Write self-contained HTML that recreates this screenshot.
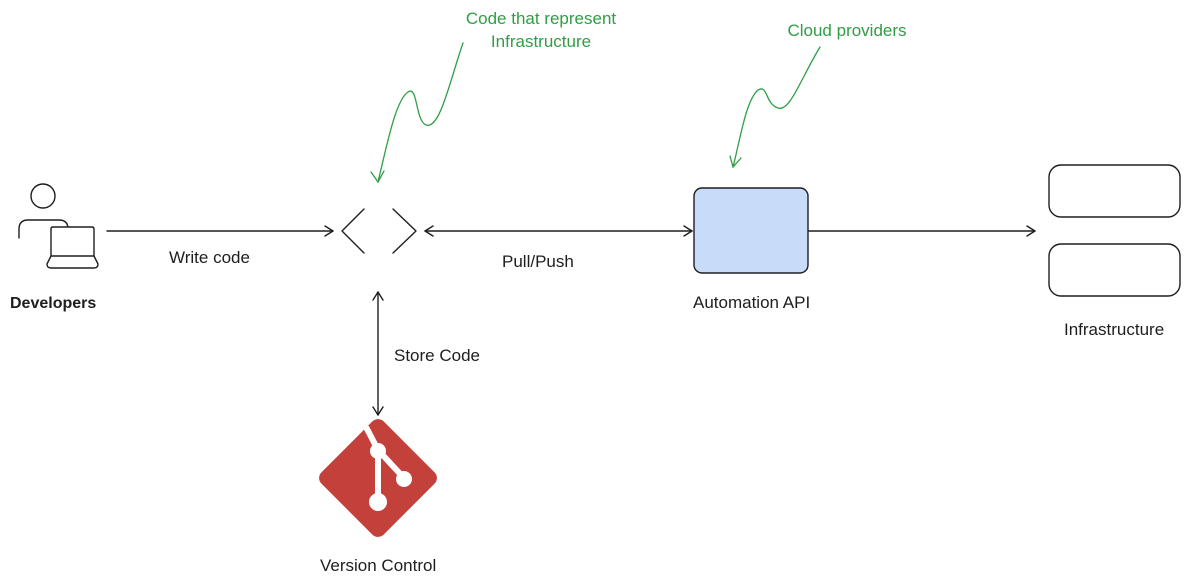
<!DOCTYPE html>
<html><head><style>
body{margin:0;background:#fff;}
svg{display:block;font-family:"Liberation Sans",Arial,sans-serif;}
</style></head><body>
<svg width="1200" height="587" viewBox="0 0 1200 587" xmlns="http://www.w3.org/2000/svg">
<g fill="none" stroke="#1e1e1e" stroke-width="1.4" stroke-linecap="round" stroke-linejoin="round">
  <circle cx="43" cy="196" r="12"/>
  <path d="M19 238 V229 Q19 220 28 220 H59 Q68 220 68 229 V238"/>
  <path d="M51 237 V229 Q51 227 53 227 H92 Q94 227 94 229 V256 H51 Z" fill="#fff"/>
  <path d="M51 256 L47 264 Q47 268 51 268 H94 Q98 268 98 264 L94 256"/>
  <path d="M364 209 L342 231 L364 253"/>
  <path d="M393 209 L416 231 L393 253"/>
  <path d="M107 231 H333"/><path d="M325 226 L333 231 L325 236"/>
  <path d="M425 231 H692"/><path d="M433 226 L425 231 L433 236"/><path d="M684 226 L692 231 L684 236"/>
  <path d="M809 231 H1035"/><path d="M1027 226 L1035 231 L1027 236"/>
  <path d="M378 292 V415"/><path d="M373 300 L378 292 L383 300"/><path d="M373 407 L378 415 L383 407"/>
  <rect x="694" y="188" width="114" height="85" rx="8" fill="#c8dcfa"/>
  <rect x="1049" y="165" width="131" height="52" rx="12"/>
  <rect x="1049" y="244" width="131" height="52" rx="12"/>
</g>
<g fill="none" stroke="#2f9e44" stroke-width="1.3" stroke-linecap="round">
  <path d="M463 43 C450 80 440 130 426 125 C415 120 418 85 408 92 C396 100 388 140 378 182"/>
  <path d="M371 172 L378 182 L384 171"/>
  <path d="M820 47 C800 80 790 112 778 108 C765 104 768 84 758 90 C746 100 740 140 733 167"/>
  <path d="M730 156 L733 167 L741 158"/>
</g>
<g transform="translate(378,478) rotate(45)">
  <rect x="-44" y="-44" width="88" height="88" rx="8" fill="#c4403a"/>
</g>
<g stroke="#fff" stroke-width="6" fill="none">
  <path d="M366 427 L378 450 L378 502"/>
  <path d="M378 450 L404 478"/>
</g>
<g fill="#fff"><circle cx="378" cy="451" r="8"/><circle cx="404" cy="479" r="8"/><circle cx="378" cy="502" r="9"/></g>
<g font-size="17" fill="#1e1e1e">
  <text x="169" y="263">Write code</text>
  <text x="502" y="267">Pull/Push</text>
  <text x="394" y="361">Store Code</text>
  <text x="693" y="308">Automation API</text>
  <text x="1064" y="335">Infrastructure</text>
  <text x="320" y="571">Version Control</text>
  <text x="10" y="308" font-weight="bold" font-size="16">Developers</text>
</g>
<g font-size="17" fill="#2f9e44" text-anchor="middle">
  <text x="541" y="24">Code that represent</text>
  <text x="541" y="47">Infrastructure</text>
  <text x="847" y="36">Cloud providers</text>
</g>
</svg>
</body></html>
